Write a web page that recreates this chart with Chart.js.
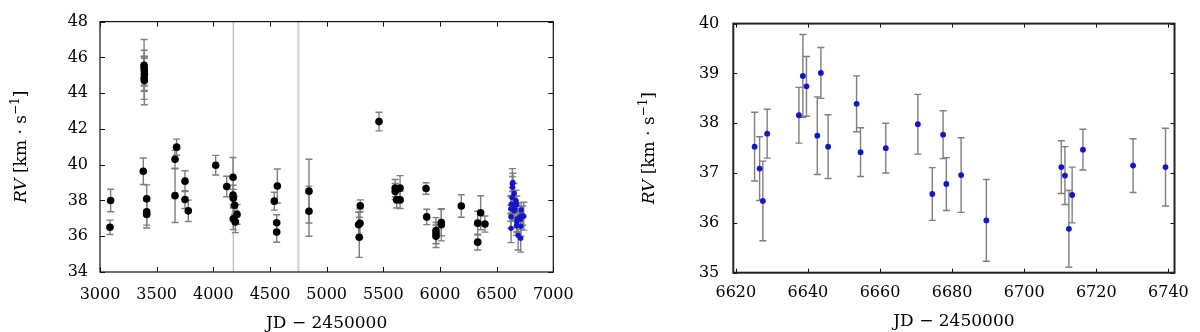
<!DOCTYPE html>
<html>
<head>
<meta charset="utf-8">
<script src="https://cdn.jsdelivr.net/npm/chart.js@4/dist/chart.umd.min.js"></script>
<style>
  body { margin: 0; background: #fff; width: 1200px; height: 332px; overflow: hidden; position: relative; }
  .panel { position: absolute; top: 0; width: 600px; height: 332px; }
</style>
</head>
<body>
<div class="panel" style="left:0"><canvas id="left" width="600" height="332"></canvas></div>
<div class="panel" style="left:600px"><canvas id="right" width="600" height="332"></canvas></div>
<script>
// long-term RVs (black points), JD - 2450000
const blackJD = [3088, 3094, 3382, 3389, 3390, 3391, 3392, 3390, 3391, 3412, 3412, 3412,
  3662, 3676, 3662, 3750, 3750, 3779, 4021, 4118, 4174, 4174, 4176, 4188, 4209, 4176, 4194,
  4538, 4565, 4559, 4559, 4844, 4844, 5282, 5294, 5297, 5288, 5462,
  5605, 5605, 5648, 5618, 5648, 5877, 5883, 5965, 5965, 5965, 6012, 6012,
  6188, 6333, 6333, 6359, 6397];
const blackRV = [36.50, 38.00, 39.63, 45.55, 45.40, 45.25, 45.05, 44.85, 44.70, 38.09, 37.37, 37.22,
  40.30, 40.98, 38.27, 39.08, 38.05, 37.42, 39.97, 38.78, 39.30, 38.30, 38.12, 37.73, 37.22, 36.97, 36.80,
  37.96, 38.81, 36.75, 36.23, 38.52, 37.40, 36.64, 36.72, 37.70, 35.94, 42.41,
  38.69, 38.50, 38.69, 38.03, 38.03, 38.67, 37.08, 36.32, 36.17, 36.00, 36.77, 36.64,
  37.69, 36.73, 35.67, 37.31, 36.68];
const blackErr = [0.40, 0.63, 0.74, 1.45, 1.00, 0.80, 0.90, 1.20, 1.35, 0.78, 0.75, 0.76,
  0.50, 0.45, 1.50, 0.58, 0.50, 0.60, 0.55, 0.57, 1.10, 0.55, 0.50, 0.50, 0.55, 0.60, 0.60,
  0.50, 0.95, 0.45, 0.57, 1.78, 1.40, 0.70, 0.80, 0.33, 1.12, 0.52,
  0.48, 0.45, 0.70, 0.45, 0.48, 0.32, 0.43, 0.72, 0.60, 0.63, 0.74, 0.90,
  0.63, 0.67, 0.44, 0.95, 0.45];

// 2014 campaign (blue points)
const blueJD = [6625.2, 6626.6, 6627.5, 6628.7, 6637.5, 6638.6, 6639.6, 6642.6, 6643.6, 6645.6,
  6653.5, 6654.6, 6661.6, 6670.5, 6674.5, 6677.5, 6678.4, 6682.5, 6689.5,
  6710.3, 6711.3, 6712.4, 6713.3, 6716.3, 6730.2, 6739.2];
const blueRV = [37.53, 37.09, 36.44, 37.79, 38.16, 38.95, 38.74, 37.75, 39.01, 37.53,
  38.39, 37.42, 37.50, 37.98, 36.58, 37.77, 36.78, 36.96, 36.05,
  37.12, 36.95, 35.88, 36.56, 37.47, 37.15, 37.12];
const blueErr = [0.69, 0.64, 0.80, 0.49, 0.56, 0.83, 0.60, 0.78, 0.51, 0.64,
  0.56, 0.49, 0.50, 0.60, 0.53, 0.48, 0.53, 0.75, 0.82,
  0.53, 0.58, 0.77, 0.56, 0.41, 0.54, 0.78];

// vertical markers in the left panel
const markerJD = [4176, 4750];

// ticks
const leftXTicks = [3000, 3500, 4000, 4500, 5000, 5500, 6000, 6500, 7000];
const leftYTicks = [34, 36, 38, 40, 42, 44, 46, 48];
const rightXTicks = [6620, 6640, 6660, 6680, 6700, 6720, 6740];
const rightYTicks = [35, 36, 37, 38, 39, 40];

const SERIF = "'DejaVu Serif', serif";
const BLUE = '#1414c8';

function points(xs, ys) {
  return xs.map((v, i) => ({ x: v, y: ys[i] }));
}

// error bars, marker lines, frame, inner ticks and axis titles
const decor = {
  id: 'decor',
  beforeDatasetsDraw(chart, args, opts) {
    const { ctx, chartArea: a, scales: { x, y } } = chart;
    ctx.save();
    ctx.beginPath();
    ctx.rect(a.left, a.top, a.right - a.left, a.bottom - a.top);
    ctx.clip();
    (opts.vlines || []).forEach(v => {
      const px = x.getPixelForValue(v.value);
      ctx.strokeStyle = v.color;
      ctx.lineWidth = v.width;
      ctx.beginPath();
      ctx.moveTo(px, a.top);
      ctx.lineTo(px, a.bottom);
      ctx.stroke();
    });
    ctx.strokeStyle = '#7f7f7f';
    ctx.lineWidth = 1.4;
    const cap = 3.5;
    chart.data.datasets.forEach(ds => {
      if (!ds.errors) return;
      ds.data.forEach((p, j) => {
        const px = x.getPixelForValue(p.x);
        const y1 = y.getPixelForValue(p.y + ds.errors[j]);
        const y2 = y.getPixelForValue(p.y - ds.errors[j]);
        ctx.beginPath();
        ctx.moveTo(px, y1); ctx.lineTo(px, y2);
        ctx.moveTo(px - cap, y1); ctx.lineTo(px + cap, y1);
        ctx.moveTo(px - cap, y2); ctx.lineTo(px + cap, y2);
        ctx.stroke();
      });
    });
    ctx.restore();
  },
  afterDraw(chart, args, opts) {
    const { ctx, chartArea: a, scales: { x, y } } = chart;
    const t = opts.tickLen;
    ctx.save();
    ctx.strokeStyle = '#111';
    ctx.lineWidth = 1;
    ctx.beginPath();
    x.ticks.forEach(tk => {
      const px = Math.round(x.getPixelForValue(tk.value)) + 0.5;
      ctx.moveTo(px, a.bottom); ctx.lineTo(px, a.bottom - t);
      ctx.moveTo(px, a.top); ctx.lineTo(px, a.top + t);
    });
    y.ticks.forEach(tk => {
      const py = Math.round(y.getPixelForValue(tk.value)) + 0.5;
      ctx.moveTo(a.left, py); ctx.lineTo(a.left + t, py);
      ctx.moveTo(a.right, py); ctx.lineTo(a.right - t, py);
    });
    ctx.stroke();
    ctx.lineWidth = opts.frameWidth;
    ctx.strokeStyle = opts.frameColor;
    ctx.strokeRect(a.left, a.top, a.right - a.left, a.bottom - a.top);

    // x title
    ctx.fillStyle = '#000';
    ctx.font = '17px ' + SERIF;
    ctx.textAlign = 'center';
    ctx.textBaseline = 'middle';
    ctx.fillText('JD − 2450000', (a.left + a.right) / 2, opts.xTitleY);

    // y title: RV [km · s^-1]
    const parts = [
      { s: 'RV', f: 'italic 17px ' + SERIF, dy: 0 },
      { s: ' [km · s', f: '17px ' + SERIF, dy: 0 },
      { s: '−1', f: '12px ' + SERIF, dy: -7 },
      { s: ']', f: '17px ' + SERIF, dy: 0 }
    ];
    let total = 0;
    parts.forEach(p => { ctx.font = p.f; p.w = ctx.measureText(p.s).width; total += p.w; });
    ctx.translate(opts.yTitleX, (a.top + a.bottom) / 2);
    ctx.rotate(-Math.PI / 2);
    ctx.textAlign = 'left';
    ctx.textBaseline = 'alphabetic';
    let cx = -total / 2;
    parts.forEach(p => {
      ctx.font = p.f;
      ctx.fillText(p.s, cx, 6 + p.dy);
      cx += p.w;
    });
    ctx.restore();
  }
};

function axis(min, max, tickList, extra) {
  return Object.assign({
    type: 'linear',
    min: min,
    max: max,
    grid: { display: false, drawTicks: false },
    border: { display: false },
    afterBuildTicks: scale => { scale.ticks = tickList.map(v => ({ value: v })); },
    ticks: {
      color: '#000',
      font: { family: SERIF, size: 16 },
      autoSkip: false,
      maxRotation: 0,
      callback: v => String(v)
    }
  }, extra);
}

function makeChart(id, datasets, cfg) {
  return new Chart(document.getElementById(id), {
    type: 'scatter',
    data: { datasets: datasets },
    plugins: [decor],
    options: {
      responsive: false,
      animation: false,
      devicePixelRatio: 1,
      events: [],
      layout: { padding: cfg.padding },
      plugins: {
        legend: { display: false },
        tooltip: { enabled: false },
        decor: cfg.decor
      },
      scales: {
        x: axis(cfg.xMin, cfg.xMax, cfg.xTicks, {
          afterFit: s => { s.height = cfg.xHeight; },
          ticks: Object.assign({}, axis(0, 1, []).ticks, { padding: cfg.xPad })
        }),
        y: axis(cfg.yMin, cfg.yMax, cfg.yTicks, {
          afterFit: s => { s.width = cfg.yWidth; },
          ticks: Object.assign({}, axis(0, 1, []).ticks, { padding: cfg.yPad })
        })
      }
    }
  });
}

makeChart('left', [
  {
    data: points(blackJD, blackRV),
    errors: blackErr,
    pointRadius: 3.8,
    pointHoverRadius: 3.8,
    pointBackgroundColor: '#000',
    pointBorderWidth: 0
  },
  {
    data: points(blueJD, blueRV),
    errors: blueErr,
    pointRadius: 2.7,
    pointHoverRadius: 2.7,
    pointBackgroundColor: BLUE,
    pointBorderWidth: 0
  }
], {
  padding: { left: 0, right: 46.7, top: 14, bottom: 0 },
  xMin: 3000, xMax: 7000, xTicks: leftXTicks, xHeight: 60, xPad: 13,
  yMin: 34, yMax: 48, yTicks: leftYTicks, yWidth: 100, yPad: 12,
  decor: {
    tickLen: 5, frameWidth: 1.2, frameColor: '#111',
    xTitleY: 324, yTitleX: 20,
    vlines: [
      { value: markerJD[0], color: '#a8a8a8', width: 1 },
      { value: markerJD[1], color: '#d8d8d8', width: 2.5 }
    ]
  }
});

makeChart('right', [
  {
    data: points(blueJD, blueRV),
    errors: blueErr,
    pointRadius: 2.9,
    pointHoverRadius: 2.9,
    pointBackgroundColor: BLUE,
    pointBorderWidth: 0
  }
], {
  padding: { left: 0, right: 18.3, top: 16.7, bottom: 0 },
  xMin: 6619.3, xMax: 6741.7, xTicks: rightXTicks, xHeight: 59.3, xPad: 11,
  yMin: 35, yMax: 40, yTicks: rightYTicks, yWidth: 133.3, yPad: 14,
  decor: {
    tickLen: 4, frameWidth: 2, frameColor: '#222',
    xTitleY: 322, yTitleX: 48,
    vlines: []
  }
});
</script>
</body>
</html>
